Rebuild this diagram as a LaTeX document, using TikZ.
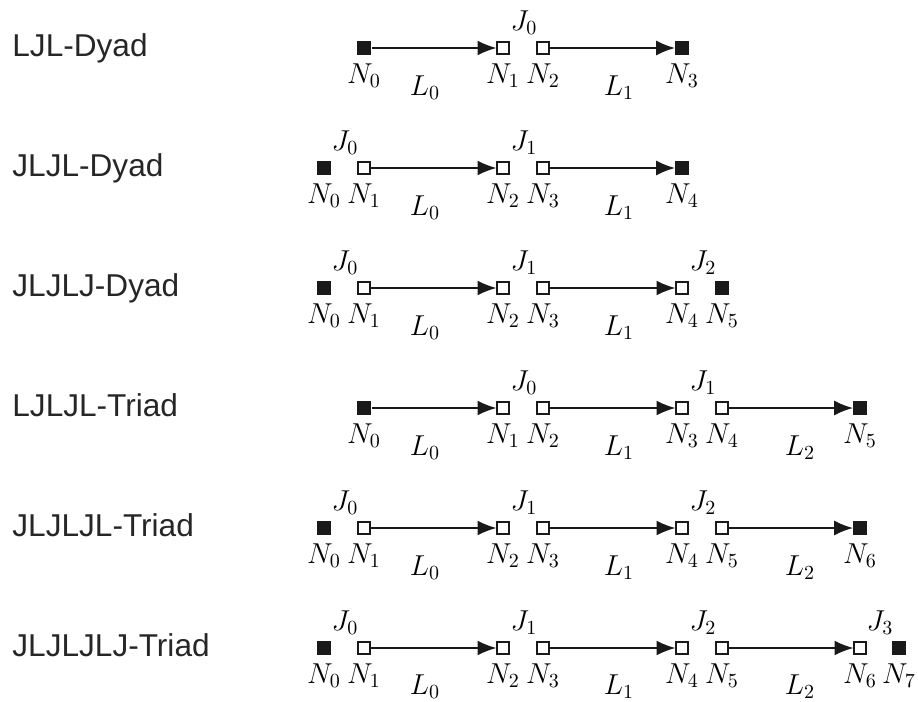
\documentclass[tikz,border=0pt]{standalone}
\usepackage{fontspec}
\newfontfamily\rowfont{Liberation Sans}
\usetikzlibrary{arrows.meta}
\tikzset{
  fsq/.style={rectangle, fill=black!90, minimum size=7.4pt, inner sep=0pt},
  osq/.style={rectangle, draw=black!90, line width=1.1pt, fill=white, minimum size=6.3pt, inner sep=0pt},
  lnk/.style={-{Latex[length=9.5pt,width=7.5pt]}, line width=1.1pt, draw=black!90, shorten >=-0.5pt},
  nlab/.style={anchor=base, inner sep=0pt, font=\fontsize{14pt}{16pt}\selectfont},
  rowlab/.style={anchor=base west, inner sep=0pt, font=\rowfont\fontsize{15.8pt}{19pt}\selectfont, text=black!85}
}
\begin{document}
\begin{tikzpicture}[x=0.5pt,y=-0.5pt]
\useasboundingbox (0,0) rectangle (918,702);
% ---------- Row 1: LJL-Dyad ----------
\node[rowlab] (t1) at (12,56) {LJL-Dyad};
\foreach \i/\x/\s in {0/364/fsq,1/503/osq,2/543/osq,3/682/fsq}{
  \node[\s] (r1n\i) at (\x,48) {};
  \node[nlab] (r1m\i) at (\x,83) {$N_{\i}$};
}
\node[nlab] (r1j0) at (524,30) {$J_0$};
\node[nlab] (r1l0) at (425,95) {$L_0$};
\node[nlab] (r1l1) at (619,95) {$L_1$};
\draw[lnk] (r1n0) -- (r1n1);
\draw[lnk] (r1n2) -- (r1n3);
% ---------- Row 2: JLJL-Dyad ----------
\node[rowlab] (t2) at (12,176) {JLJL-Dyad};
\foreach \i/\x/\s in {0/324/fsq,1/364/osq,2/503/osq,3/543/osq,4/682/fsq}{
  \node[\s] (r2n\i) at (\x,168) {};
  \node[nlab] (r2m\i) at (\x,203) {$N_{\i}$};
}
\node[nlab] (r2j0) at (345,150) {$J_0$};
\node[nlab] (r2j1) at (524,150) {$J_1$};
\node[nlab] (r2l0) at (425,215) {$L_0$};
\node[nlab] (r2l1) at (619,215) {$L_1$};
\draw[lnk] (r2n1) -- (r2n2);
\draw[lnk] (r2n3) -- (r2n4);
% ---------- Row 3: JLJLJ-Dyad ----------
\node[rowlab] (t3) at (12,296) {JLJLJ-Dyad};
\foreach \i/\x/\s in {0/324/fsq,1/364/osq,2/503/osq,3/543/osq,4/682/osq,5/722/fsq}{
  \node[\s] (r3n\i) at (\x,288) {};
  \node[nlab] (r3m\i) at (\x,323) {$N_{\i}$};
}
\node[nlab] (r3j0) at (345,270) {$J_0$};
\node[nlab] (r3j1) at (524,270) {$J_1$};
\node[nlab] (r3j2) at (703,270) {$J_2$};
\node[nlab] (r3l0) at (425,335) {$L_0$};
\node[nlab] (r3l1) at (619,335) {$L_1$};
\draw[lnk] (r3n1) -- (r3n2);
\draw[lnk] (r3n3) -- (r3n4);
% ---------- Row 4: LJLJL-Triad ----------
\node[rowlab] (t4) at (12,416) {LJLJL-Triad};
\foreach \i/\x/\s in {0/364/fsq,1/503/osq,2/543/osq,3/682/osq,4/722/osq,5/860/fsq}{
  \node[\s] (r4n\i) at (\x,408) {};
  \node[nlab] (r4m\i) at (\x,443) {$N_{\i}$};
}
\node[nlab] (r4j0) at (524,390) {$J_0$};
\node[nlab] (r4j1) at (703,390) {$J_1$};
\node[nlab] (r4l0) at (425,455) {$L_0$};
\node[nlab] (r4l1) at (619,455) {$L_1$};
\node[nlab] (r4l2) at (800,455) {$L_2$};
\draw[lnk] (r4n0) -- (r4n1);
\draw[lnk] (r4n2) -- (r4n3);
\draw[lnk] (r4n4) -- (r4n5);
% ---------- Row 5: JLJLJL-Triad ----------
\node[rowlab] (t5) at (12,536) {JLJLJL-Triad};
\foreach \i/\x/\s in {0/324/fsq,1/364/osq,2/503/osq,3/543/osq,4/682/osq,5/722/osq,6/860/fsq}{
  \node[\s] (r5n\i) at (\x,528) {};
  \node[nlab] (r5m\i) at (\x,563) {$N_{\i}$};
}
\node[nlab] (r5j0) at (345,510) {$J_0$};
\node[nlab] (r5j1) at (524,510) {$J_1$};
\node[nlab] (r5j2) at (703,510) {$J_2$};
\node[nlab] (r5l0) at (425,575) {$L_0$};
\node[nlab] (r5l1) at (619,575) {$L_1$};
\node[nlab] (r5l2) at (800,575) {$L_2$};
\draw[lnk] (r5n1) -- (r5n2);
\draw[lnk] (r5n3) -- (r5n4);
\draw[lnk] (r5n5) -- (r5n6);
% ---------- Row 6: JLJLJLJ-Triad ----------
\node[rowlab] (t6) at (12,656) {JLJLJLJ-Triad};
\foreach \i/\x/\s in {0/324/fsq,1/364/osq,2/503/osq,3/543/osq,4/682/osq,5/722/osq,6/860/osq,7/899/fsq}{
  \node[\s] (r6n\i) at (\x,648) {};
  \node[nlab] (r6m\i) at (\x,683) {$N_{\i}$};
}
\node[nlab] (r6j0) at (345,630) {$J_0$};
\node[nlab] (r6j1) at (524,630) {$J_1$};
\node[nlab] (r6j2) at (703,630) {$J_2$};
\node[nlab] (r6j3) at (880,630) {$J_3$};
\node[nlab] (r6l0) at (425,694) {$L_0$};
\node[nlab] (r6l1) at (619,694) {$L_1$};
\node[nlab] (r6l2) at (800,694) {$L_2$};
\draw[lnk] (r6n1) -- (r6n2);
\draw[lnk] (r6n3) -- (r6n4);
\draw[lnk] (r6n5) -- (r6n6);
\end{tikzpicture}
\end{document}
